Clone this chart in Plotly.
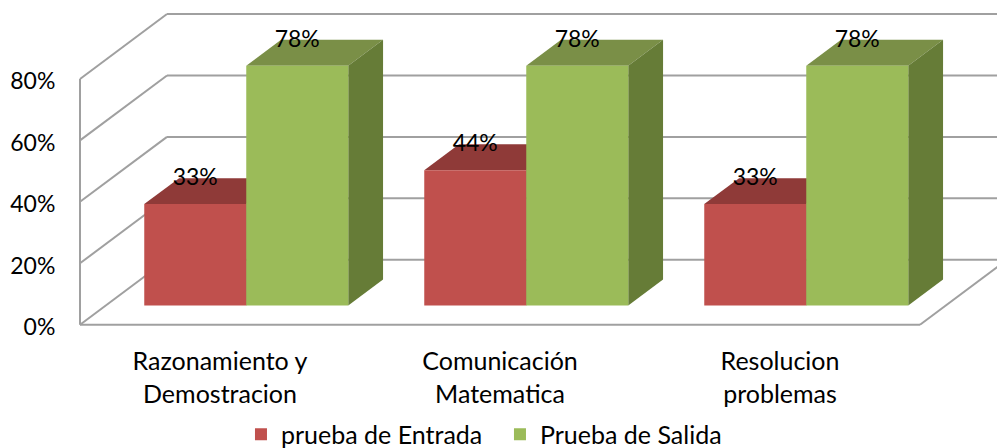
import plotly.graph_objects as go

categories = ["Razonamiento y<br>Demostracion", "Comunicación<br>Matematica", "Resolucion<br>problemas"]
label_positions = [0.5, 1.5, 2.5]
entrada = [33, 44, 33]
salida = [78, 78, 78]
y_ticks = [0, 20, 40, 60, 80]
FONT = "Lato, Carlito, Calibri, sans-serif"

# page geometry
W, H = 997, 448
PX_X = 280.0        # pixels per category
PX_Y = 3.075        # pixels per percent
LEFT, ZERO_Y = 80, 325
PAD_L, PAD_B = 10, 4

# oblique depth of the 3D box, in axis units
DEPTH_X = 87 / PX_X
DEPTH_Y = 65 / PX_Y
BAR_NEAR, BAR_FAR = 0.296, 0.696
BAR_W = 102 / PX_X
SIDE_GAP = 38.5 / PX_X
TICK_NUDGE = 0.8    # tick labels sit slightly below their gridline

x_min = -PAD_L / PX_X
x_max = (W - LEFT) / PX_X
y_min = -PAD_B
y_max = ZERO_Y / PX_Y
n = len(categories)


def project(x, y, d):
    return x + d * DEPTH_X, y + d * DEPTH_Y


def poly(points, fill):
    path = "M" + "L".join(f"{x},{y}" for x, y in points) + "Z"
    return dict(type="path", path=path, fillcolor=fill, line=dict(width=0), layer="below",
                xref="x", yref="y")


def seg(p, q):
    return dict(type="line", x0=p[0], y0=p[1], x1=q[0], y1=q[1], xref="x", yref="y", layer="below",
                line=dict(color="#A0A0A0", width=2))


shapes = []
# walls: side wall + back wall gridlines
for t in y_ticks:
    shapes.append(seg((0, t), project(0, t, 1)))
    shapes.append(seg(project(0, t, 1), project(x_max + 1, t, 1)))
shapes.append(seg((0, 0), (0, y_ticks[-1])))
shapes.append(seg((0, 0), (n, 0)))
shapes.append(seg((n, 0), project(n, 0, 1)))


def box_faces(x0, value, top_col, side_col):
    x1 = x0 + BAR_W
    top = [project(x0, value, BAR_NEAR), project(x1, value, BAR_NEAR),
           project(x1, value, BAR_FAR), project(x0, value, BAR_FAR)]
    side = [project(x1, 0, BAR_NEAR), project(x1, value, BAR_NEAR),
            project(x1, value, BAR_FAR), project(x1, 0, BAR_FAR)]
    return [poly(top, top_col), poly(side, side_col)]


red_x = [i + SIDE_GAP + BAR_NEAR * DEPTH_X for i in range(n)]
green_x = [x + BAR_W for x in red_x]
for i in range(n):
    shapes += box_faces(i + SIDE_GAP, entrada[i], "#8F3A38", "#7F3533")
    shapes += box_faces(i + SIDE_GAP + BAR_W, salida[i], "#7A8F47", "#667C37")

base = BAR_NEAR * DEPTH_Y
fig = go.Figure()
fig.add_bar(name="prueba de Entrada", x=red_x, y=entrada, base=base, width=BAR_W, offset=0,
            marker=dict(color="#C0504D", line=dict(width=0)))
fig.add_bar(name="Prueba de Salida", x=green_x, y=salida, base=base, width=BAR_W, offset=0,
            marker=dict(color="#9BBB59", line=dict(width=0)))

lift = base + 25 / PX_Y
fig.add_scatter(x=[x + BAR_W / 2 for x in red_x + green_x],
                y=[v + lift for v in entrada + salida],
                mode="text", text=[f"{v}%" for v in entrada + salida],
                textposition="middle center", showlegend=False, hoverinfo="skip",
                textfont=dict(family=FONT, size=23, color="#000000"))

plot_h = (ZERO_Y + PAD_B * PX_Y)
fig.update_layout(
    width=W, height=H, autosize=False,
    margin=dict(l=LEFT - PAD_L, r=0, t=0, b=H - plot_h, pad=0),
    paper_bgcolor="#FFFFFF", plot_bgcolor="rgba(0,0,0,0)",
    barmode="overlay", shapes=shapes,
    font=dict(family=FONT, size=23, color="#000000"),
    legend=dict(orientation="h", xref="container", yref="container",
                x=0.2417, xanchor="left", y=0.03, yanchor="middle",
                entrywidth=214, entrywidthmode="pixels",
                font=dict(family=FONT, size=25), traceorder="normal", bgcolor="rgba(0,0,0,0)"),
    xaxis=dict(range=[x_min, x_max], tickmode="array", tickvals=label_positions, ticktext=categories,
               showgrid=False, zeroline=False, showline=False, ticks="outside", ticklen=2,
               tickcolor="rgba(0,0,0,0)", tickfont=dict(family=FONT, size=25)),
    yaxis=dict(range=[y_min, y_max], tickmode="array", tickvals=[t - TICK_NUDGE for t in y_ticks],
               ticktext=[f"{t}%" for t in y_ticks],
               showgrid=False, zeroline=False, showline=False, ticks="outside", ticklen=9,
               tickcolor="rgba(0,0,0,0)", tickfont=dict(family=FONT, size=23)),
)
fig.write_html("out.html", config=dict(displayModeBar=False),
               post_script="document.body.style.margin='0';")
